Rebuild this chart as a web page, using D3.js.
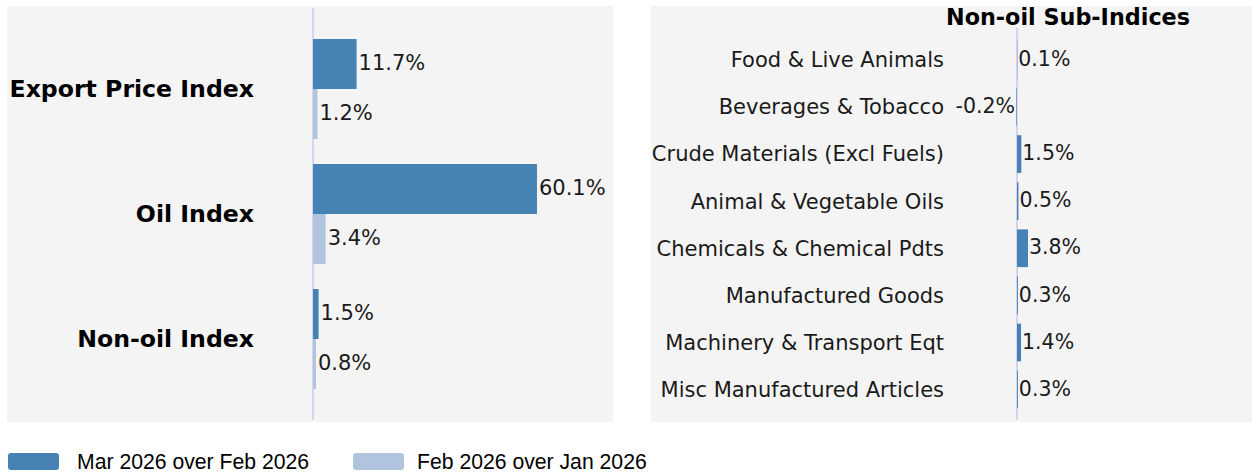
<!DOCTYPE html>
<html><head><meta charset="utf-8">
<script src="https://cdn.jsdelivr.net/npm/d3@7"></script>
<style>body{margin:0;background:#fff}svg{display:block}</style>
</head><body><svg id="c" width="1252" height="475"></svg>
<script>
const mainCategories = ["Export Price Index", "Oil Index", "Non-oil Index"];
const seriesNames = ["Mar 2026 over Feb 2026", "Feb 2026 over Jan 2026"];
const mainMar = [11.7, 60.1, 1.5];
const mainFeb = [1.2, 3.4, 0.8];
const subCategories = ["Food & Live Animals", "Beverages & Tobacco", "Crude Materials (Excl Fuels)",
  "Animal & Vegetable Oils", "Chemicals & Chemical Pdts", "Manufactured Goods",
  "Machinery & Transport Eqt", "Misc Manufactured Articles"];
const subMar = [0.1, -0.2, 1.5, 0.5, 3.8, 0.3, 1.4, 0.3];
const subTitle = "Non-oil Sub-Indices";
const colors = ["#4682b4", "#b0c4de"];

const svg = d3.select("#c");
const bg = "#f4f4f4", zeroCol = "#d4d4f0";
const DV = "DejaVu Sans, sans-serif";
const fmt = v => v.toFixed(1) + "%";

// ---------- Left panel ----------
const L = {x0: 7, x1: 613, y0: 6, y1: 422};
svg.append("rect").attr("x", L.x0).attr("y", L.y0).attr("width", L.x1 - L.x0).attr("height", L.y1 - L.y0).attr("fill", bg);
const xL = d3.scaleLinear().domain([-82.1, 80.5]).range([L.x0, L.x1]);
const yL = d3.scaleBand().domain(mainCategories).range([26.5, 401.5]).padding(0);
const ySub = d3.scaleBand().domain([0, 1]).range([12.5, 112.5]);
const gL = svg.append("g");
gL.append("line").attr("x1", xL(0)).attr("x2", xL(0)).attr("y1", L.y0 + 2).attr("y2", L.y1 - 2)
  .attr("stroke", zeroCol).attr("stroke-width", 2);
const mainData = [];
mainCategories.forEach((c, i) => {
  [mainMar[i], mainFeb[i]].forEach((v, s) => mainData.push({c, s, v}));
});
gL.selectAll("rect.b").data(mainData).join("rect").attr("class", "b")
  .attr("x", d => xL(Math.min(0, d.v)))
  .attr("width", d => Math.abs(xL(d.v) - xL(0)))
  .attr("y", d => yL(d.c) + ySub(d.s))
  .attr("height", ySub.bandwidth())
  .attr("fill", d => colors[d.s]);
gL.selectAll("text.v").data(mainData).join("text").attr("class", "v")
  .attr("x", d => xL(d.v) + 2)
  .attr("y", d => yL(d.c) + ySub(d.s) + ySub.bandwidth() / 2)
  .attr("dy", "0.3em").attr("font-family", DV).attr("font-size", 21).attr("fill", "#1a1a1a")
  .text(d => fmt(d.v));
gL.selectAll("text.c").data(mainCategories).join("text").attr("class", "c")
  .attr("x", 254).attr("y", d => yL(d) + yL.bandwidth() / 2)
  .attr("dy", "0.36em").attr("text-anchor", "end")
  .attr("font-family", DV).attr("font-weight", "bold").attr("font-size", 23.6).attr("fill", "#000")
  .text(d => d);

// ---------- Right panel ----------
const R = {x0: 651, x1: 1252, y0: 6, y1: 422};
svg.append("rect").attr("x", R.x0).attr("y", R.y0).attr("width", R.x1 - R.x0).attr("height", R.y1 - R.y0).attr("fill", bg);
const xR = d3.scaleLinear().domain([0, 3.8]).range([1017, 1028]);
const yR = d3.scaleBand().domain(subCategories).range([36.3, 413.1]).paddingInner(0.2).paddingOuter(0.1);
const gR = svg.append("g");
gR.append("line").attr("x1", xR(0)).attr("x2", xR(0)).attr("y1", 28).attr("y2", R.y1 - 2)
  .attr("stroke", zeroCol).attr("stroke-width", 2);
const subData = subCategories.map((c, i) => ({c, v: subMar[i]}));
gR.selectAll("rect.b").data(subData).join("rect").attr("class", "b")
  .attr("x", d => xR(Math.min(0, d.v)))
  .attr("width", d => Math.abs(xR(d.v) - xR(0)))
  .attr("y", d => yR(d.c)).attr("height", yR.bandwidth())
  .attr("fill", colors[0]);
gR.selectAll("text.v").data(subData).join("text").attr("class", "v")
  .attr("x", d => d.v >= 0 ? xR(d.v) + 1 : xR(0) - 2)
  .attr("text-anchor", d => d.v >= 0 ? "start" : "end")
  .attr("y", d => yR(d.c) + yR.bandwidth() / 2)
  .attr("dy", "0.3em").attr("font-family", DV).attr("font-size", 20.5).attr("fill", "#1a1a1a")
  .text(d => fmt(d.v));
gR.selectAll("text.c").data(subCategories).join("text").attr("class", "c")
  .attr("x", 944).attr("y", d => yR(d) + yR.bandwidth() / 2)
  .attr("dy", "0.35em").attr("text-anchor", "end")
  .attr("font-family", DV).attr("font-size", 21).attr("fill", "#1a1a1a")
  .text(d => d);
gR.append("text").attr("x", 1068).attr("y", 17).attr("dy", "0.35em").attr("text-anchor", "middle")
  .attr("font-family", DV).attr("font-weight", "bold").attr("font-size", 22.3).attr("fill", "#000")
  .text(subTitle);

// ---------- Legend ----------
const legX = [8, 353];
const legTextX = [77, 417];
const leg = svg.append("g").selectAll("g").data(seriesNames).join("g");
leg.append("rect").attr("x", (d, i) => legX[i]).attr("y", 453).attr("width", 51).attr("height", 17).attr("rx", 3)
  .attr("fill", (d, i) => colors[i]);
leg.append("text").attr("x", (d, i) => legTextX[i]).attr("y", 462).attr("dy", "0.35em")
  .attr("font-family", "Liberation Sans, Arial, sans-serif").attr("font-size", 21.2).attr("fill", "#000")
  .text(d => d);
</script></body></html>
